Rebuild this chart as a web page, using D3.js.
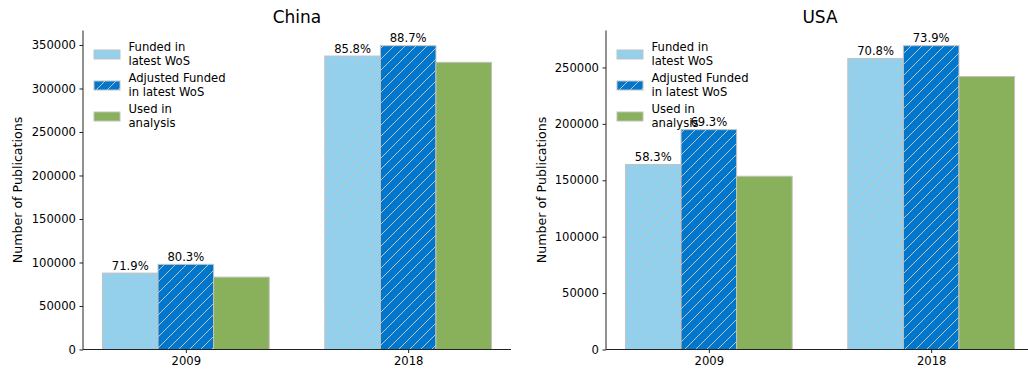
<!DOCTYPE html>
<html>
<head>
<meta charset="utf-8">
<script src="https://cdn.jsdelivr.net/npm/d3@7"></script>
<style>
  html, body { margin: 0; padding: 0; background: #fff; }
  svg { display: block; font-family: "DejaVu Sans", sans-serif; }
</style>
</head>
<body>
<svg id="chart" width="1028" height="370"></svg>
<script>
// Publication counts per country and year
const years = ["2009", "2018"];
const seriesNames = ["Funded in\nlatest WoS", "Adjusted Funded\nin latest WoS", "Used in\nanalysis"];

const chinaFunded = [87800, 337300];
const chinaAdjusted = [97900, 349200];
const chinaUsed = [83200, 330100];
const chinaFundedPct = ["71.9%", "85.8%"];
const chinaAdjustedPct = ["80.3%", "88.7%"];

const usaFunded = [164000, 258000];
const usaAdjusted = [194900, 269300];
const usaUsed = [153600, 242000];
const usaFundedPct = ["58.3%", "70.8%"];
const usaAdjustedPct = ["69.3%", "73.9%"];

const yTicksChina = [0, 50000, 100000, 150000, 200000, 250000, 300000, 350000];
const yTicksUsa = [0, 50000, 100000, 150000, 200000, 250000];

const colors = ["#8fd1ee", "#0077cc", "#89b05a"];
const edgeColor = "#c2c2c2";
const fontSize = 11.6;

const svg = d3.select("#chart");
const defs = svg.append("defs");

// diagonal hatch patterns for the funded series
function hatch(id, bg) {
  const p = defs.append("pattern")
    .attr("id", id)
    .attr("patternUnits", "userSpaceOnUse")
    .attr("width", 11).attr("height", 11);
  p.append("rect").attr("width", 11).attr("height", 11).attr("fill", bg);
  p.append("path")
    .attr("d", "M-1,1 L1,-1 M0,11 L11,0 M10,12 L12,10")
    .attr("stroke", edgeColor).attr("stroke-width", 1);
}
hatch("hatchFunded", colors[0]);
hatch("hatchAdjusted", colors[1]);
const fills = ["url(#hatchFunded)", "url(#hatchAdjusted)", colors[2]];

function panel(opts) {
  const { left, right, top, bottom, title, funded, adjusted, used, fundedPct, adjustedPct, yTicks, ylabelX } = opts;
  const g = svg.append("g");

  const x = d3.scaleLinear().domain([-0.4625, 1.4625]).range([left, right]);
  const maxVal = d3.max([...funded, ...adjusted, ...used]) * 1.05;
  const y = d3.scaleLinear().domain([0, maxVal]).range([bottom, top]);

  const width = 0.25;
  const offsets = [-0.25, 0, 0.25];
  const series = [funded, adjusted, used];

  series.forEach((vals, si) => {
    g.selectAll(null).data(vals).enter().append("rect")
      .attr("x", (d, i) => x(i + offsets[si] - width / 2))
      .attr("width", x(width) - x(0))
      .attr("y", d => y(d))
      .attr("height", d => y(0) - y(d))
      .attr("fill", fills[si])
      .attr("stroke", edgeColor)
      .attr("stroke-width", 1);
  });

  // percentage annotations above the funded bars
  [[funded, fundedPct, 0], [adjusted, adjustedPct, 1]].forEach(([vals, labels, si]) => {
    g.selectAll(null).data(vals).enter().append("text")
      .attr("x", (d, i) => x(i + offsets[si]))
      .attr("y", d => y(d) - 3.5)
      .attr("text-anchor", "middle")
      .attr("font-size", fontSize)
      .attr("fill", "#000")
      .text((d, i) => labels[i]);
  });

  // axes
  const yAxis = d3.axisLeft(y).tickValues(yTicks).tickFormat(d3.format("d")).tickSize(3.5).tickPadding(3.5);
  const ya = g.append("g").attr("transform", `translate(${left},0)`).call(yAxis);
  const xAxis = d3.axisBottom(x).tickValues([0, 1]).tickFormat((d, i) => years[i]).tickSize(3.5).tickPadding(3.5);
  const xa = g.append("g").attr("transform", `translate(0,${bottom})`).call(xAxis);
  [ya, xa].forEach(a => {
    a.selectAll("path.domain").attr("stroke", "#222").attr("stroke-width", 1);
    a.selectAll(".tick line").attr("stroke", "#222");
    a.selectAll(".tick text").attr("font-size", fontSize).attr("fill", "#000").attr("font-family", "DejaVu Sans");
  });
  ya.select("path.domain").attr("d", `M0,${bottom}V${top}`);
  xa.select("path.domain").attr("d", `M${left},0H${right}`);

  g.append("text")
    .attr("transform", `translate(${ylabelX},${(top + bottom) / 2}) rotate(-90)`)
    .attr("text-anchor", "middle")
    .attr("dominant-baseline", "central")
    .attr("font-size", 12.6)
    .text("Number of Publications");

  g.append("text")
    .attr("x", (left + right) / 2)
    .attr("y", 23)
    .attr("text-anchor", "middle")
    .attr("font-size", 17)
    .text(title);

  // legend
  const lg = g.append("g").attr("transform", `translate(${left + 11},50)`);
  seriesNames.forEach((name, i) => {
    const row = lg.append("g").attr("transform", `translate(0,${i * 31})`);
    row.append("rect")
      .attr("width", 26).attr("height", 9)
      .attr("fill", fills[i]).attr("stroke", edgeColor).attr("stroke-width", 1);
    name.split("\n").forEach((line, j) => {
      row.append("text")
        .attr("x", 34.5)
        .attr("y", 1 + j * 13.5)
        .attr("font-size", fontSize)
        .text(line);
    });
  });
}

panel({
  left: 83, right: 511, top: 30.5, bottom: 349.5, title: "China",
  funded: chinaFunded, adjusted: chinaAdjusted, used: chinaUsed,
  fundedPct: chinaFundedPct, adjustedPct: chinaAdjustedPct,
  yTicks: yTicksChina, ylabelX: 17
});
panel({
  left: 606, right: 1034, top: 30.5, bottom: 349.5, title: "USA",
  funded: usaFunded, adjusted: usaAdjusted, used: usaUsed,
  fundedPct: usaFundedPct, adjustedPct: usaAdjustedPct,
  yTicks: yTicksUsa, ylabelX: 541
});
</script>
</body>
</html>
